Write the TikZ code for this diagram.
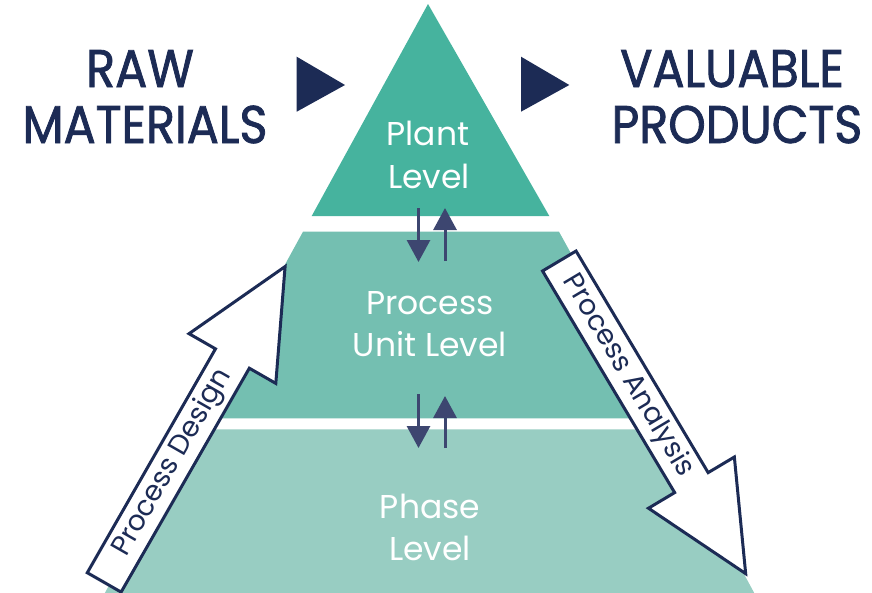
\documentclass[tikz,border=0pt]{standalone}
\usepackage{fontspec}
\setmainfont{Poppins}
\newfontfamily\titlefont[FakeStretch=0.9,FakeBold=1.5]{Poppins}
\usetikzlibrary{arrows.meta}
\definecolor{bandA}{HTML}{46B39E}
\definecolor{bandB}{HTML}{74BFB1}
\definecolor{bandC}{HTML}{98CDC2}
\definecolor{navy}{HTML}{1C2B55}
\definecolor{slate}{HTML}{3D4670}
\begin{document}
\begin{tikzpicture}[x=1pt,y=-1pt,
  title/.style={font=\titlefont\fontsize{53}{57}\selectfont, text=navy, inner sep=0, anchor=base},
  level/.style={font=\fontsize{33}{43}\selectfont, text=white, inner sep=0, anchor=base},
  bigarrow/.style={draw=navy, line width=3pt, fill=white, line join=miter},
  armtext/.style={font=\fontsize{28}{30}\selectfont, text=navy, inner sep=0},
  flow/.style={draw=slate, line width=3pt, -{Triangle[width=23pt,length=22pt]}},
  play/.style={fill=navy}]
\useasboundingbox (0,0) rectangle (872,592);
\clip (0,0) rectangle (872,592);
% pyramid bands
\fill[bandA] (428,4) -- (549.3,216) -- (311.7,216) -- cycle;
\fill[bandB] (303,231.7) -- (559,231.7) -- (662,418.3) -- (200.7,418.3) -- cycle;
\fill[bandC] (194.7,429.3) -- (666,429.3) -- (758,600) -- (101,600) -- cycle;
% titles
\node[title] (raw) at (140,87) {RAW};
\node[title] (mat) at (145,143) {MATERIALS};
\node[title] (val) at (732,87) {VALUABLE};
\node[title] (prod) at (737,143) {PRODUCTS};
% play triangles
\fill[play] (296.7,56.7) -- (345,85) -- (296.7,111.7) -- cycle;
\fill[play] (521,56.7) -- (569.3,85) -- (521,111.7) -- cycle;
% level texts
\node[level] (plantA) at (428,145) {Plant};
\node[level] (plantB) at (429,188) {Level};
\node[level] (unitA) at (430,314) {Process};
\node[level] (unitB) at (430,356) {Unit Level};
\node[level] (phaseA) at (430,518) {Phase};
\node[level] (phaseB) at (430,560) {Level};
% small flow arrows
\coordinate (d1a) at (418.5,208);
\coordinate (d1b) at (418.5,262);
\coordinate (u1a) at (445,261);
\coordinate (u1b) at (445,208);
\coordinate (d2a) at (418.5,394);
\coordinate (d2b) at (418.5,448);
\coordinate (u2a) at (445,448);
\coordinate (u2b) at (445,396);
\draw[flow] (d1a) -- (d1b);
\draw[flow] (u1a) -- (u1b);
\draw[flow] (d2a) -- (d2b);
\draw[flow] (u2a) -- (u2b);
% big arrows
\begin{scope}[shift={(104.2,582.4)}, rotate=60.2]
  \draw[bigarrow] (0,-19.5) -- (258,-19.5) -- (258,-50) -- (364,0) -- (258,50) -- (258,19.5) -- (0,19.5) -- cycle;
  \node[armtext, rotate=60.2] (design) at (138,0) {Process Design};
\end{scope}
\begin{scope}[shift={(559.3,261)}, rotate=-59.2]
  \draw[bigarrow] (0,-19.5) -- (258,-19.5) -- (258,-50) -- (364,0) -- (258,50) -- (258,19.5) -- (0,19.5) -- cycle;
  \node[armtext, rotate=-59.2] (analysis) at (134,0) {Process Analysis};
\end{scope}
\end{tikzpicture}
\end{document}
